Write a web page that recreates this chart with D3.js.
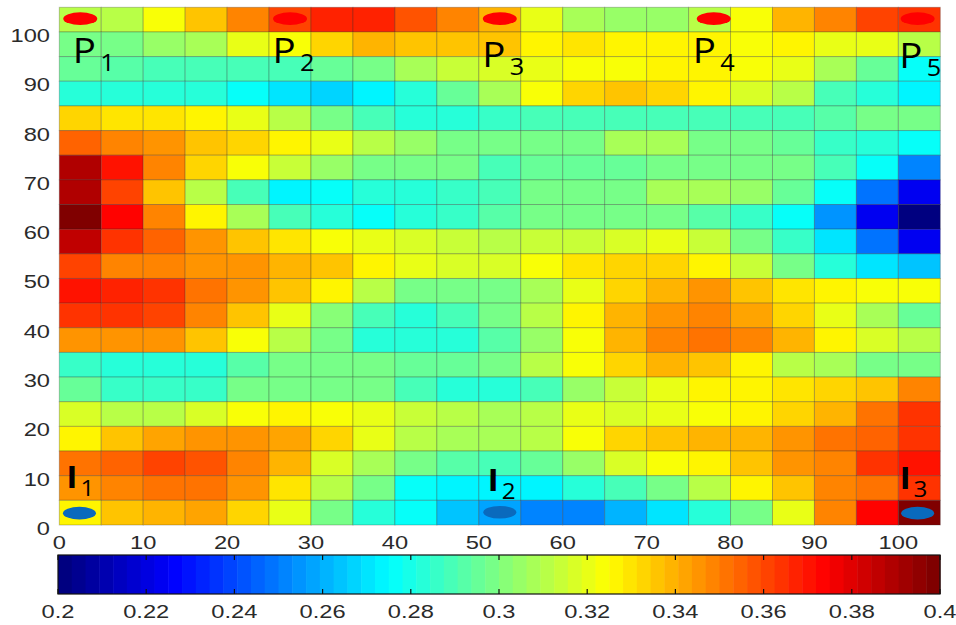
<!DOCTYPE html>
<html>
<head>
<meta charset="utf-8">
<script src="https://cdn.jsdelivr.net/npm/d3@7"></script>
<style>
  body { margin: 0; background: #fff; }
  svg { display: block; }
</style>
</head>
<body>
<div id="chart"></div>
<script>
// bin starts (5 units wide), x left->right, y top->bottom
var xBins = d3.range(0, 105, 5);
var yBins = [100, 95, 90, 85, 80, 75, 70, 65, 60, 55, 50, 45, 40, 35, 30, 25, 20, 15, 10, 5, 0];

// one row per y bin
var heatRows = [
  [0.31,0.31,0.322,0.335,0.348,0.362,0.366,0.366,0.358,0.348,0.338,0.32,0.307,0.305,0.304,0.31,0.322,0.34,0.348,0.36,0.363],
  [0.298,0.298,0.304,0.307,0.32,0.323,0.333,0.338,0.336,0.335,0.336,0.328,0.33,0.325,0.325,0.325,0.322,0.325,0.321,0.319,0.31],
  [0.294,0.293,0.29,0.29,0.29,0.29,0.294,0.30,0.307,0.313,0.317,0.32,0.322,0.322,0.325,0.325,0.322,0.32,0.307,0.294,0.275],
  [0.284,0.284,0.283,0.282,0.275,0.271,0.267,0.272,0.282,0.294,0.307,0.322,0.333,0.335,0.332,0.325,0.317,0.31,0.29,0.282,0.272],
  [0.332,0.33,0.33,0.325,0.321,0.31,0.30,0.29,0.284,0.284,0.287,0.29,0.29,0.29,0.29,0.29,0.29,0.29,0.293,0.298,0.298],
  [0.355,0.348,0.344,0.336,0.333,0.325,0.32,0.31,0.304,0.30,0.30,0.30,0.30,0.307,0.307,0.30,0.30,0.294,0.287,0.282,0.275],
  [0.388,0.369,0.35,0.333,0.322,0.313,0.304,0.30,0.297,0.297,0.29,0.294,0.294,0.294,0.297,0.298,0.30,0.297,0.29,0.275,0.253],
  [0.388,0.36,0.336,0.31,0.29,0.273,0.275,0.282,0.284,0.287,0.29,0.297,0.297,0.297,0.307,0.307,0.304,0.294,0.275,0.25,0.225],
  [0.4,0.375,0.348,0.325,0.307,0.29,0.283,0.278,0.282,0.287,0.293,0.297,0.297,0.297,0.297,0.293,0.287,0.275,0.256,0.225,0.2],
  [0.385,0.365,0.355,0.345,0.336,0.33,0.323,0.32,0.317,0.313,0.31,0.313,0.313,0.317,0.32,0.313,0.30,0.287,0.27,0.25,0.225],
  [0.36,0.35,0.348,0.344,0.344,0.34,0.336,0.328,0.321,0.317,0.317,0.322,0.33,0.332,0.332,0.325,0.313,0.297,0.284,0.27,0.265],
  [0.369,0.367,0.363,0.353,0.344,0.336,0.325,0.31,0.30,0.298,0.298,0.307,0.32,0.333,0.34,0.344,0.336,0.33,0.325,0.322,0.322],
  [0.365,0.365,0.36,0.35,0.336,0.32,0.302,0.29,0.284,0.29,0.297,0.31,0.325,0.339,0.344,0.348,0.342,0.333,0.32,0.307,0.294],
  [0.344,0.345,0.345,0.336,0.322,0.31,0.297,0.284,0.282,0.284,0.293,0.304,0.322,0.339,0.35,0.353,0.35,0.34,0.328,0.317,0.31],
  [0.287,0.284,0.283,0.284,0.293,0.30,0.30,0.297,0.294,0.294,0.30,0.31,0.322,0.333,0.34,0.336,0.328,0.31,0.307,0.30,0.297],
  [0.294,0.287,0.287,0.287,0.297,0.30,0.30,0.297,0.29,0.284,0.284,0.29,0.304,0.313,0.321,0.325,0.328,0.33,0.332,0.337,0.348],
  [0.317,0.31,0.31,0.317,0.322,0.325,0.324,0.321,0.315,0.31,0.307,0.31,0.32,0.318,0.321,0.322,0.325,0.332,0.34,0.353,0.365],
  [0.325,0.336,0.342,0.344,0.345,0.342,0.333,0.321,0.31,0.307,0.307,0.31,0.323,0.333,0.337,0.34,0.34,0.344,0.351,0.356,0.363],
  [0.352,0.356,0.36,0.358,0.35,0.34,0.318,0.307,0.297,0.292,0.29,0.294,0.304,0.317,0.322,0.328,0.336,0.344,0.35,0.363,0.369],
  [0.344,0.347,0.352,0.352,0.344,0.33,0.312,0.298,0.275,0.273,0.273,0.272,0.282,0.29,0.30,0.31,0.325,0.336,0.347,0.353,0.365],
  [0.325,0.336,0.34,0.342,0.332,0.32,0.298,0.284,0.275,0.265,0.258,0.253,0.253,0.26,0.27,0.282,0.297,0.32,0.347,0.375,0.4]
];

var xTickLabels = [0, 10, 20, 30, 40, 50, 60, 70, 80, 90, 100];
var yTickLabels = [0, 10, 20, 30, 40, 50, 60, 70, 80, 90, 100];
var cbTickLabels = [0.2, 0.22, 0.24, 0.26, 0.28, 0.3, 0.32, 0.34, 0.36, 0.38, 0.4];

// markers and their labels, in data units
var pDots = [[2.5, 102.7], [27.5, 102.7], [52.5, 102.7], [78, 102.7], [102.3, 102.7]];
var iDots = [[2.4, 2.4], [52.5, 2.6], [102.3, 2.4]];
var pLabels = [
  {x: 1.6, y: 93.7, sub: "1"}, {x: 25.4, y: 93.7, sub: "2"}, {x: 50.4, y: 92.9, sub: "3"},
  {x: 75.5, y: 93.7, sub: "4"}, {x: 100.1, y: 92.6, sub: "5"}
];
var iLabels = [{x: 0.9, y: 7.5, sub: "1"}, {x: 51.1, y: 6.9, sub: "2"}, {x: 100.2, y: 7.3, sub: "3"}];

// matlab style jet, 64 steps
function jet(t) {
  var c = function(v) { return Math.max(0, Math.min(1, v)); };
  return d3.rgb(255 * c(1.5 - Math.abs(4 * t - 3)), 255 * c(1.5 - Math.abs(4 * t - 2)), 255 * c(1.5 - Math.abs(4 * t - 1)));
}
var nLevels = 64;
function colorOf(v) {
  var i = Math.floor((v - 0.2) / 0.2 * nLevels);
  i = Math.max(0, Math.min(nLevels - 1, i));
  return jet(i / (nLevels - 1));
}

var width = 956, height = 625;
var svg = d3.select("#chart").append("svg").attr("width", width).attr("height", height);

var x = d3.scaleLinear().domain([0, 105]).range([59.3, 940.3]);
var y = d3.scaleLinear().domain([0, 105]).range([525, 7.3]);

var cells = [];
heatRows.forEach(function(row, r) {
  row.forEach(function(v, c) { cells.push({x0: xBins[c], y0: yBins[r], v: v}); });
});

svg.append("g").selectAll("rect").data(cells).enter().append("rect")
  .attr("x", function(d) { return x(d.x0); })
  .attr("y", function(d) { return y(d.y0 + 5); })
  .attr("width", function(d) { return x(d.x0 + 5) - x(d.x0); })
  .attr("height", function(d) { return y(d.y0) - y(d.y0 + 5); })
  .attr("fill", function(d) { return colorOf(d.v); })
  .attr("stroke", "rgba(40,40,40,0.28)")
  .attr("stroke-width", 1);

var axisFont = "'Liberation Sans', Arial, sans-serif";
var stretch = 1.28;

svg.append("g").selectAll("text").data(yTickLabels).enter().append("text")
  .attr("transform", function(d) { return "translate(50," + (y(d) + 10) + ") scale(" + stretch + ",1)"; })
  .attr("text-anchor", "end")
  .attr("font-family", axisFont).attr("font-size", 18.5).attr("fill", "#2a2a2a")
  .text(function(d) { return d; });

svg.append("g").selectAll("text").data(xTickLabels).enter().append("text")
  .attr("transform", function(d) { return "translate(" + x(d) + ",549) scale(" + stretch + ",1)"; })
  .attr("text-anchor", "middle")
  .attr("font-family", axisFont).attr("font-size", 18.5).attr("fill", "#2a2a2a")
  .text(function(d) { return d; });

// ellipse markers
svg.append("g").selectAll("ellipse").data(pDots).enter().append("ellipse")
  .attr("cx", function(d) { return x(d[0]); }).attr("cy", function(d) { return y(d[1]); })
  .attr("rx", 17).attr("ry", 6.3).attr("fill", "#ff0000");
svg.append("g").selectAll("ellipse").data(iDots).enter().append("ellipse")
  .attr("cx", function(d) { return x(d[0]); }).attr("cy", function(d) { return y(d[1]); })
  .attr("rx", 16.5).attr("ry", 6.3).attr("fill", "#0a6abd");

function addLabels(data, letter, font, size, weight, subSize, dx, dy) {
  var t = svg.append("g").selectAll("text").data(data).enter().append("text")
    .attr("transform", function(d) { return "translate(" + x(d.x) + "," + y(d.y) + ") scale(1.1,1)"; })
    .attr("font-family", "'Open Sans', 'Noto Sans', sans-serif")
    .attr("font-size", size).attr("fill", "#000");
  t.append("tspan").style("font-family", font).attr("font-weight", weight).text(letter);
  t.append("tspan").attr("font-size", subSize).attr("dx", dx).attr("dy", dy)
    .text(function(d) { return d.sub; });
}
addLabels(pLabels, "P", "'Open Sans', sans-serif", 35, 400, 23, 4, 8);
addLabels(iLabels, "I", "Roboto, 'DejaVu Sans', sans-serif", 32, 700, 22, 3, 8);

// colorbar
var cb = d3.scaleLinear().domain([0.2, 0.4]).range([58, 940]);
var cbTop = 555, cbBottom = 594;
var steps = d3.range(nLevels);
svg.append("g").selectAll("rect").data(steps).enter().append("rect")
  .attr("x", function(i) { return cb(0.2 + i * 0.2 / nLevels); })
  .attr("y", cbTop)
  .attr("width", function(i) { return cb(0.2 + (i + 1) * 0.2 / nLevels) - cb(0.2 + i * 0.2 / nLevels) + 0.5; })
  .attr("height", cbBottom - cbTop)
  .attr("fill", function(i) { return jet(i / (nLevels - 1)); });
svg.append("rect").attr("x", cb(0.2)).attr("y", cbTop)
  .attr("width", cb(0.4) - cb(0.2)).attr("height", cbBottom - cbTop)
  .attr("fill", "none").attr("stroke", "#111").attr("stroke-width", 1.2);

var tk = svg.append("g").selectAll("g").data(cbTickLabels).enter().append("g");
tk.append("line").attr("x1", function(d) { return cb(d); }).attr("x2", function(d) { return cb(d); })
  .attr("y1", cbTop).attr("y2", cbTop + 5).attr("stroke", "#111").attr("stroke-width", 1.2);
tk.append("line").attr("x1", function(d) { return cb(d); }).attr("x2", function(d) { return cb(d); })
  .attr("y1", cbBottom - 5).attr("y2", cbBottom).attr("stroke", "#111").attr("stroke-width", 1.2);
tk.append("text")
  .attr("transform", function(d) { return "translate(" + cb(d) + ",618) scale(" + stretch + ",1)"; })
  .attr("text-anchor", "middle")
  .attr("font-family", axisFont).attr("font-size", 18.5).attr("fill", "#2a2a2a")
  .text(function(d) { return d; });
</script>
</body>
</html>
